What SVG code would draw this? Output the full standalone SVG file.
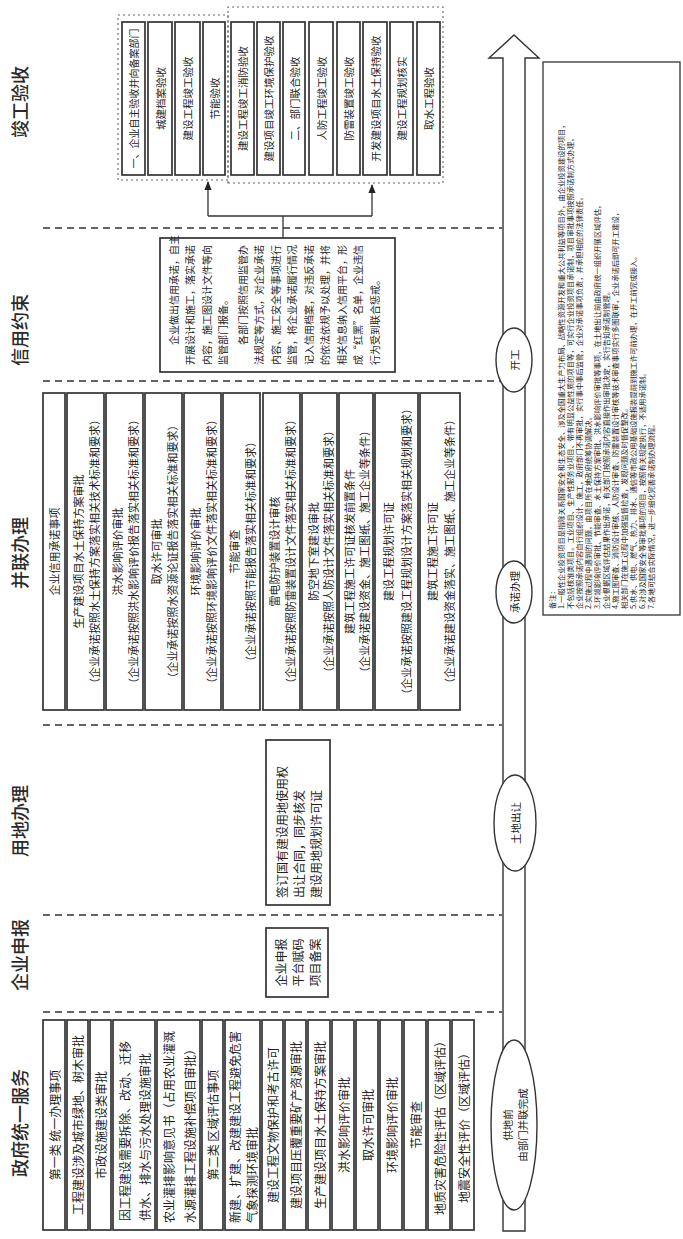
<svg xmlns="http://www.w3.org/2000/svg" width="683" height="1239" viewBox="0 0 683 1239">
<defs>
<style>
.box{fill:#fff;stroke:#333;stroke-width:1.7}
.t{font-family:"Noto Sans CJK SC","Noto Sans",sans-serif;font-size:11px;fill:#1e1e1e;dominant-baseline:central}
.c{text-anchor:middle}
.h{font-size:18px;fill:#2a2a2a;font-weight:500}
.g{font-size:12px}
.k{font-size:10.5px}
.sep{stroke:#333;stroke-width:1.7;stroke-dasharray:7 5;fill:none}
.grp{fill:none;stroke:#666;stroke-width:1.1;stroke-dasharray:2 3}
.conn{stroke:#333;stroke-width:1.3;fill:none}
.ell{fill:#fff;stroke:#333;stroke-width:1.4}
</style>
<marker id="ah" viewBox="0 0 10 10" refX="9" refY="5" markerWidth="7" markerHeight="7" orient="auto"><path d="M0,1 L10,5 L0,9 Z" fill="#222"/></marker>
</defs>
<rect width="683" height="1239" fill="#fff"/>
<g transform="matrix(0,-1,1,0,0,1239)">

<g id="headings">
<text class="t h c" x="116" y="19">政府统一服务</text>
<text class="t h c" x="284" y="19">企业申报</text>
<text class="t h c" x="418" y="19">用地办理</text>
<text class="t h c" x="686" y="19">并联办理</text>
<text class="t h c" x="909" y="19">信用约束</text>
<text class="t h c" x="1137" y="19">竣工验收</text>
</g>

<g id="separators">
<line class="sep" x1="227" y1="43" x2="227" y2="502"/>
<line class="sep" x1="324" y1="43" x2="324" y2="502"/>
<line class="sep" x1="514" y1="43" x2="514" y2="502"/>
<line class="sep" x1="858" y1="43" x2="858" y2="502"/>
<line class="sep" x1="1011" y1="43" x2="1011" y2="502"/>
</g>

<g id="gov">
<rect class="box" x="9" y="43" width="210" height="22"/><text class="t g c" x="114" y="54">第一类  统一办理事项</text>
<rect class="box" x="9" y="67" width="210" height="21"/><text class="t g c" x="114" y="77.5">工程建设涉及城市绿地、树木审批</text>
<rect class="box" x="9" y="90" width="210" height="21"/><text class="t g c" x="114" y="100.5">市政设施建设类审批</text>
<rect class="box" x="9" y="113" width="210" height="42"/><text class="t g" x="18" y="124">因工程建设需要拆除、改动、迁移</text><text class="t g" x="18" y="144">供水、排水与污水处理设施审批</text>
<rect class="box" x="9" y="157" width="210" height="43"/><text class="t g" x="16" y="168">农业灌排影响意见书（占用农业灌溉</text><text class="t g" x="16" y="189">水源灌排工程设施补偿项目审批）</text>
<rect class="box" x="9" y="202" width="210" height="21"/><text class="t g c" x="114" y="212.5">第二类  区域评估事项</text>
<rect class="box" x="9" y="225" width="210" height="35"/><text class="t g" x="16" y="234">新建、扩建、改建建设工程避免危害</text><text class="t g" x="16" y="251">气象探测环境审批</text>
<rect class="box" x="9" y="262" width="210" height="21"/><text class="t g c" x="114" y="272.5">建设工程文物保护和考古许可</text>
<rect class="box" x="9" y="285" width="210" height="21"/><text class="t g c" x="114" y="295.5">建设项目压覆重要矿产资源审批</text>
<rect class="box" x="9" y="308" width="210" height="22"/><text class="t g c" x="114" y="319">生产建设项目水土保持方案审批</text>
<rect class="box" x="9" y="332" width="210" height="22"/><text class="t g c" x="114" y="343">洪水影响评价审批</text>
<rect class="box" x="9" y="356" width="210" height="22"/><text class="t g c" x="114" y="367">取水许可审批</text>
<rect class="box" x="9" y="380" width="210" height="22"/><text class="t g c" x="114" y="391">环境影响评价审批</text>
<rect class="box" x="9" y="404" width="210" height="22"/><text class="t g c" x="114" y="415">节能审查</text>
<rect class="box" x="9" y="428" width="210" height="22"/><text class="t g c" x="114" y="439">地质灾害危险性评估（区域评估）</text>
<rect class="box" x="9" y="452" width="210" height="22"/><text class="t g c" x="114" y="463">地震安全性评价（区域评估）</text>
</g>

<g id="apply">
<rect class="box" x="242" y="266" width="69" height="62"/>
<text class="t g c" x="276.5" y="280">企业申报</text>
<text class="t g c" x="276.5" y="297">平台赋码</text>
<text class="t g c" x="276.5" y="314">项目备案</text>
</g>

<g id="land">
<rect class="box" x="334" y="266" width="165" height="64"/>
<text class="t g" x="341" y="281">签订国有建设用地使用权</text>
<text class="t g" x="341" y="298">出让合同，同步核发</text>
<text class="t g" x="341" y="315">建设用地规划许可证</text>
</g>

<g id="parallel">
<rect class="box" x="529" y="43" width="317" height="22"/><text class="t c" x="687.5" y="54">企业信用承诺事项</text>
<rect class="box" x="529" y="67" width="317" height="37"/><text class="t c" x="687.5" y="78">生产建设项目水土保持方案审批</text><text class="t c" x="687.5" y="94">（企业承诺按照水土保持方案落实相关技术标准和要求）</text>
<rect class="box" x="529" y="106" width="317" height="37"/><text class="t c" x="687.5" y="117">洪水影响评价审批</text><text class="t c" x="687.5" y="133">（企业承诺按照洪水影响评价报告落实相关标准和要求）</text>
<rect class="box" x="529" y="145" width="317" height="37"/><text class="t c" x="687.5" y="156">取水许可审批</text><text class="t c" x="687.5" y="172">（企业承诺按照水资源论证报告落实相关标准和要求）</text>
<rect class="box" x="529" y="184" width="317" height="37"/><text class="t c" x="687.5" y="195">环境影响评价审批</text><text class="t c" x="687.5" y="211">（企业承诺按照环境影响评价文件落实相关标准和要求）</text>
<rect class="box" x="529" y="223" width="317" height="37"/><text class="t c" x="687.5" y="234">节能审查</text><text class="t c" x="687.5" y="250">（企业承诺按照节能报告落实相关标准和要求）</text>
<rect class="box" x="529" y="263" width="317" height="37"/><text class="t c" x="687.5" y="274">雷电防护装置设计审核</text><text class="t c" x="687.5" y="290">（企业承诺按照防雷装置设计文件落实相关标准和要求）</text>
<rect class="box" x="529" y="302" width="317" height="35"/><text class="t c" x="687.5" y="313">防空地下室建设审批</text><text class="t c" x="687.5" y="328">（企业承诺按照人防设计文件落实相关标准和要求）</text>
<rect class="box" x="529" y="339" width="317" height="34"/><text class="t c" x="687.5" y="349">建筑工程施工许可证核发前置条件</text><text class="t c" x="687.5" y="364">（企业承诺建设资金、施工图纸、施工企业等条件）</text>
<rect class="box" x="529" y="375" width="317" height="43"/><text class="t c" x="687.5" y="388">建设工程规划许可证</text><text class="t c" x="687.5" y="406">（企业承诺按照建设工程规划设计方案落实相关规划和要求）</text>
<rect class="box" x="529" y="420" width="317" height="40"/><text class="t c" x="687.5" y="432">建筑工程施工许可证</text><text class="t c" x="687.5" y="449">（企业承诺建设资金落实、施工图纸、施工企业等条件）</text>
</g>

<g id="credit">
<rect class="box" x="867" y="160" width="134" height="235"/>
<g class="t" style="font-size:10px">
<text x="894" y="173">企业做出信用承诺，自主</text>
<text x="874" y="189.5">开展设计和施工，落实承诺</text>
<text x="874" y="206">内容，施工图设计文件等向</text>
<text x="874" y="222.5">监管部门报备。</text>
<text x="894" y="242">各部门按照信用监管办</text>
<text x="874" y="258.5">法规定等方式，对企业承诺</text>
<text x="874" y="275">内容、施工安全等事项进行</text>
<text x="874" y="291.5">监管，将企业承诺履行情况</text>
<text x="874" y="308">记入信用档案，对违反承诺</text>
<text x="874" y="324.5">的依法依规予以处理，并将</text>
<text x="874" y="341">相关信息纳入信用平台，形</text>
<text x="874" y="357.5">成“红黑”名单，企业违信</text>
<text x="874" y="374">行为受到联合惩戒。</text>
</g>
</g>

<g id="acceptance-self">
<rect class="grp" x="1059" y="118" width="165" height="110"/>
<rect class="box" x="1064" y="122" width="153" height="23"/><text class="t c" x="1140.5" y="133.5" style="font-size:10px">一、企业自主验收并向备案部门</text>
<rect class="box" x="1064" y="148" width="153" height="24"/><text class="t k c" x="1140.5" y="160">城建档案验收</text>
<rect class="box" x="1064" y="175" width="153" height="25"/><text class="t k c" x="1140.5" y="187.5">建设工程竣工验收</text>
<rect class="box" x="1064" y="203" width="153" height="22"/><text class="t k c" x="1140.5" y="214">节能验收</text>
</g>

<g id="acceptance-joint">
<rect class="grp" x="1056" y="228" width="176" height="215"/>
<rect class="box" x="1064" y="231" width="153" height="23"/><text class="t k c" x="1140.5" y="242.5">建设工程竣工消防验收</text>
<rect class="box" x="1064" y="257" width="153" height="23"/><text class="t k c" x="1140.5" y="268.5">建设项目竣工环境保护验收</text>
<rect class="box" x="1064" y="283" width="153" height="22"/><text class="t k c" x="1140.5" y="294">二、部门联合验收</text>
<rect class="box" x="1064" y="309" width="153" height="24"/><text class="t k c" x="1140.5" y="321">人防工程竣工验收</text>
<rect class="box" x="1064" y="337" width="153" height="23"/><text class="t k c" x="1140.5" y="348.5">防雷装置竣工验收</text>
<rect class="box" x="1064" y="363" width="153" height="24"/><text class="t k c" x="1140.5" y="375">开发建设项目水土保持验收</text>
<rect class="box" x="1064" y="390" width="153" height="23"/><text class="t k c" x="1140.5" y="401.5">建设工程规划核实</text>
<rect class="box" x="1064" y="417" width="153" height="23"/><text class="t k c" x="1140.5" y="428.5">取水工程验收</text>
</g>

<g id="connectors">
<path class="conn" d="M1001,283 L1023,283"/>
<path class="conn" d="M1023,208 L1023,372"/>
<path class="conn" d="M1023,208 L1057,208" marker-end="url(#ah)"/>
<path class="conn" d="M1023,372 L1054,372" marker-end="url(#ah)"/>
</g>

<g id="timeline">
<path class="ell" d="M8,503 L1181,503 L1181,489 L1204,514 L1181,539 L1181,525 L8,525 Z"/>
</g>
<g id="node-start">
<ellipse class="ell" cx="114" cy="514" rx="85" ry="23"/>
<text class="t k c" x="114" y="507">供地前</text>
<text class="t k c" x="114" y="522">由部门并联完成</text>
</g>
<g id="node-land">
<ellipse class="ell" cx="416" cy="515" rx="48" ry="21"/>
<text class="t k c" x="416" y="515">土地出让</text>
</g>
<g id="node-promise">
<ellipse class="ell" cx="647" cy="514" rx="31" ry="18"/>
<text class="t k c" x="647" y="514">承诺办理</text>
</g>
<g id="node-start-work">
<ellipse class="ell" cx="879" cy="514" rx="32" ry="18"/>
<text class="t k c" x="879" y="514">开工</text>
</g>

<g id="notes">
<rect class="box" x="624" y="543" width="553" height="137" style="stroke-width:1.3"/>
<g class="t" style="font-size:7.3px">
<text x="630" y="552">备注：</text>
<text x="630" y="561">1.一般性企业投资项目是指除关系国家安全和生态安全、涉及全国重大生产力布局、战略性资源开发和重大公共利益等项目外，由企业投资建设的项目，</text>
<text x="630" y="570">不包括核准类项目。工业项目、生产性服务业项目、带有明显公益性质的项目等，可实行企业投资项目承诺制，项目审批事项按照承诺制方式办理，</text>
<text x="630" y="579">企业按照承诺内容自行组织设计、施工，政府部门不再审批，实行事中事后监管，企业对承诺事项负责，并承担相应的法律责任。</text>
<text x="630" y="588">2.实施过程中遇到的问题，由项目所在地政府统筹协调解决。</text>
<text x="630" y="597">3.环境影响评价审批、节能审查、水土保持方案审批、洪水影响评价审批等事项，在土地出让前由政府统一组织开展区域评估，</text>
<text x="630" y="606">企业根据区域评估结果作出承诺，有关部门按照承诺内容直接作出审批决定，实行告知承诺制管理。</text>
<text x="630" y="615">4.施工图审查、消防设计审核、人防设计审查、防雷装置设计审核等技术审查事项实行多图联审，企业承诺后即可开工建设，</text>
<text x="630" y="624">相关部门在施工过程中加强监督检查，发现问题及时督促整改。</text>
<text x="630" y="633">5.供水、供电、燃气、热力、排水、通信等市政公用基础设施报装提前到施工许可前办理，在开工前完成接入。</text>
<text x="630" y="642">6.对涉及国家安全等审批事项的项目，按照有关规定执行，不适用承诺制。</text>
<text x="630" y="651">7.各地可结合实际情况，进一步细化完善承诺制办理流程。</text>
</g>
</g>

</g>
</svg>
